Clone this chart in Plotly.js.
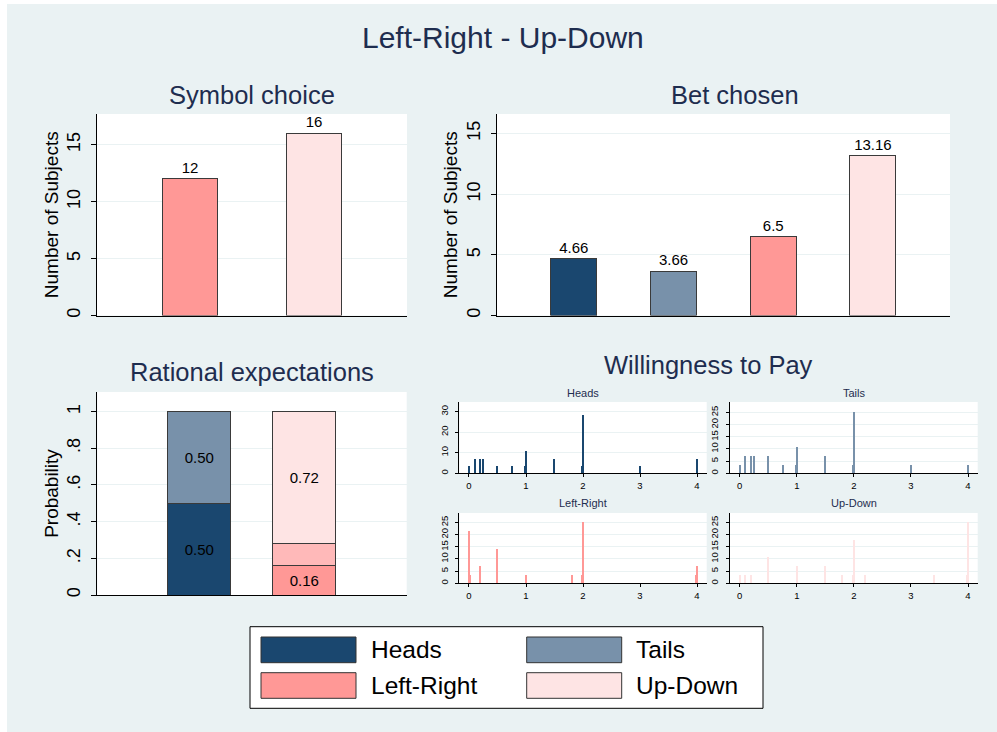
<!DOCTYPE html>
<html><head><meta charset="utf-8">
<script src="https://cdn.plot.ly/plotly-3.0.1.min.js"></script>
<style>html,body{margin:0;padding:0;background:#fff}#chart{width:997px;height:732px}</style>
</head><body><div id="chart"></div>
<script>
// ---------- data ----------
const seriesNames = ['Heads', 'Tails', 'Left-Right', 'Up-Down'];
const seriesColors = ['#1a476f', '#7891aa', '#ff9896', '#fee4e4'];
const middleColor = '#ffb9b9';

const symbolCats = ['Left-Right', 'Up-Down'];
const symbolCounts = [12, 16];
const symbolLabels = ['12', '16'];

const betCats = ['Heads', 'Tails', 'Left-Right', 'Up-Down'];
const betCounts = [4.66, 3.66, 6.5, 13.16];
const betLabels = ['4.66', '3.66', '6.5', '13.16'];

const ratCats = ['Heads / Tails', 'Left-Right / Up-Down'];
const ratBottom = [0.50, 0.16];
const ratBottomLabels = ['0.50', '0.16'];
const ratMiddleCats = ['Left-Right / Up-Down'];
const ratMiddle = [0.12];
const ratTop = [0.50, 0.72];
const ratTopLabels = ['0.50', '0.72'];
const probTickVals = [0, 0.2, 0.4, 0.6, 0.8, 1];
const probTickText = ['0', '.2', '.4', '.6', '.8', '1'];

const wtpHeadsX   = [0, 0.1, 0.2, 0.25, 0.5, 0.75, 0.98, 1, 1.5, 1.98, 2, 3, 4];
const wtpHeadsPct = [3.57, 7.14, 7.14, 7.14, 3.57, 3.57, 3.57, 10.71, 7.14, 3.57, 28.57, 3.57, 7.14];
const wtpTailsX   = [0, 0.1, 0.2, 0.25, 0.5, 0.75, 0.98, 1, 1.5, 1.98, 2, 3, 4];
const wtpTailsPct = [3.57, 7.14, 7.14, 7.14, 7.14, 3.57, 3.57, 10.71, 7.14, 3.57, 25, 3.57, 3.57];
const wtpLRX      = [0, 0.02, 0.2, 0.5, 1, 1.8, 1.98, 2, 3.98, 4];
const wtpLRPct    = [21.43, 3.57, 7.14, 14.29, 3.57, 3.57, 3.57, 25, 3.57, 7.14];
const wtpUDX      = [0, 0.1, 0.2, 0.5, 1, 1.5, 1.8, 1.98, 2, 2.2, 3.4, 3.98, 4];
const wtpUDPct    = [3.57, 3.57, 3.57, 10.71, 7.14, 7.14, 3.57, 3.57, 17.86, 3.57, 3.57, 3.57, 25];

// ---------- styling ----------
const FONT = '"Liberation Sans", Arial, Helvetica, sans-serif';
const TITLE_C = '#1e2d4f';
const BG = '#eaf2f3';
const W = 997, H = 732;
const fx = p => p / W;
const fy = p => 1 - p / H;
const outline = {color: '#3a3a3a', width: 1};

const traces = [];
// Panel 1: Symbol choice
traces.push({type: 'bar', x: symbolCats, y: symbolCounts, xaxis: 'x', yaxis: 'y',
  marker: {color: [seriesColors[2], seriesColors[3]], line: outline}, width: 0.45,
  text: symbolLabels, textposition: 'outside', cliponaxis: false,
  textfont: {size: 15, color: '#000'}, hoverinfo: 'skip'});
// Panel 2: Bet chosen
traces.push({type: 'bar', x: betCats, y: betCounts, xaxis: 'x2', yaxis: 'y2',
  marker: {color: seriesColors, line: outline}, width: 0.46,
  text: betLabels, textposition: 'outside', cliponaxis: false,
  textfont: {size: 15, color: '#000'}, hoverinfo: 'skip'});
// Panel 3: Rational expectations (stacked)
traces.push({type: 'bar', x: ratCats, y: ratBottom, xaxis: 'x3', yaxis: 'y3',
  marker: {color: [seriesColors[0], seriesColors[2]], line: outline}, width: 0.6,
  text: ratBottomLabels, textposition: 'inside', insidetextanchor: 'middle', constraintext: 'none',
  textangle: 0, textfont: {size: 15, color: '#000'}, hoverinfo: 'skip'});
traces.push({type: 'bar', x: ratMiddleCats, y: ratMiddle, xaxis: 'x3', yaxis: 'y3',
  marker: {color: middleColor, line: outline}, width: 0.6, hoverinfo: 'skip'});
traces.push({type: 'bar', x: ratCats, y: ratTop, xaxis: 'x3', yaxis: 'y3',
  marker: {color: [seriesColors[1], seriesColors[3]], line: outline}, width: 0.6,
  text: ratTopLabels, textposition: 'inside', insidetextanchor: 'middle', constraintext: 'none',
  textangle: 0, textfont: {size: 15, color: '#000'}, hoverinfo: 'skip'});
// Willingness to pay histograms
const wtp = [[wtpHeadsX, wtpHeadsPct], [wtpTailsX, wtpTailsPct], [wtpLRX, wtpLRPct], [wtpUDX, wtpUDPct]];
wtp.forEach((d, i) => {
  traces.push({type: 'bar', x: d[0], y: d[1], xaxis: 'x' + (i + 4), yaxis: 'y' + (i + 4),
    marker: {color: seriesColors[i], line: {width: 0}}, width: 0.035, hoverinfo: 'skip'});
});

function bigY(domain, range, title, extra) {
  return Object.assign({domain, range, tick0: 0, showline: true, linecolor: '#000', linewidth: 1,
    ticks: 'outside', ticklen: 5, tickcolor: '#000', tickangle: -90, ticklabelstandoff: 4,
    tickfont: {size: 18, color: '#000'}, showgrid: true, gridcolor: BG, gridwidth: 1,
    zeroline: false, fixedrange: true,
    title: {text: title, font: {size: 19, color: '#000'}, standoff: 0}}, extra || {});
}
function bigX(domain, range) {
  return {domain, range, type: 'category', showline: true, linecolor: '#000', linewidth: 1,
    ticks: '', showticklabels: false, showgrid: false, zeroline: false, fixedrange: true};
}
function smallX(domain, anchor) {
  return {domain, anchor, range: [-0.17, 4.17], tick0: 0, dtick: 1, showline: true, linecolor: '#000',
    linewidth: 1, ticks: 'outside', ticklen: 3, tickcolor: '#000', tickfont: {size: 9.5, color: '#000'},
    showgrid: false, zeroline: false, fixedrange: true, ticklabelstandoff: 0};
}
function smallY(domain, anchor, range, dtick) {
  return {domain, anchor, range, tick0: 0, dtick, showline: true, linecolor: '#000', linewidth: 1,
    ticks: 'outside', ticklen: 3, tickcolor: '#000', tickangle: -90, tickfont: {size: 9.5, color: '#000'},
    showgrid: true, gridcolor: BG, gridwidth: 1, zeroline: false, fixedrange: true, ticklabelstandoff: 4};
}

const dTopRow = [fy(315.5), fy(114)];
const dP3 = [fy(595), fy(392)];
const dHTop = [fy(473.3), fy(402)];
const dHBot = [fy(583.3), fy(513)];
const dHL = [fx(459.3), fx(706.7)];
const dHR = [fx(730), fx(977.7)];

const layout = {
  width: W, height: H, margin: {l: 0, r: 0, t: 0, b: 0},
  paper_bgcolor: BG, plot_bgcolor: '#ffffff', showlegend: false, barmode: 'stack',
  font: {family: FONT, color: '#000'},
  xaxis: Object.assign(bigX([fx(97), fx(407)], [-0.75, 1.75]), {anchor: 'y'}),
  yaxis: bigY(dTopRow, [0, 17.7], 'Number of Subjects', {dtick: 5, anchor: 'x'}),
  xaxis2: Object.assign(bigX([fx(496.7), fx(950)], [-0.773, 3.773]), {anchor: 'y2'}),
  yaxis2: bigY(dTopRow, [0, 16.6], 'Number of Subjects', {dtick: 5, anchor: 'x2'}),
  xaxis3: Object.assign(bigX([fx(97.3), fx(406.7)], [-0.973, 1.977]), {anchor: 'y3'}),
  yaxis3: bigY(dP3, [0, 1.107], 'Probability', {tickmode: 'array', tickvals: probTickVals, ticktext: probTickText, anchor: 'x3'}),
  xaxis4: smallX(dHL, 'y4'), yaxis4: smallY(dHTop, 'x4', [0, 34.7], 10),
  xaxis5: smallX(dHR, 'y5'), yaxis5: smallY(dHTop, 'x5', [0, 29.3], 5),
  xaxis6: smallX(dHL, 'y6'), yaxis6: smallY(dHBot, 'x6', [0, 28.9], 5),
  xaxis7: smallX(dHR, 'y7'), yaxis7: smallY(dHBot, 'x7', [0, 28.9], 5),
  annotations: [], shapes: []
};

function ann(text, xp, yp, size, color, xanchor) {
  layout.annotations.push({text, x: fx(xp), y: fy(yp), xref: 'paper', yref: 'paper',
    xanchor: xanchor || 'center', yanchor: 'middle', showarrow: false,
    font: {family: FONT, size, color: color || TITLE_C}});
}
ann('Left-Right - Up-Down', 503, 37.5, 30);
ann('Symbol choice', 252, 95, 25.5);
ann('Bet chosen', 735, 95, 25.5);
ann('Rational expectations', 252, 372, 25.5);
ann('Willingness to Pay', 708, 365, 25.5);
ann(seriesNames[0], 583, 393, 11);
ann(seriesNames[1], 854, 393, 11);
ann(seriesNames[2], 583, 503.3, 11);
ann(seriesNames[3], 854, 503.3, 11);

// white frame strips
layout.shapes.push({type: 'rect', xref: 'paper', yref: 'paper', x0: 0, x1: fx(7), y0: 0, y1: 1,
  fillcolor: '#fff', line: {width: 0}, layer: 'below'});
layout.shapes.push({type: 'rect', xref: 'paper', yref: 'paper', x0: 0, x1: 1, y0: fy(4), y1: 1,
  fillcolor: '#fff', line: {width: 0}, layer: 'below'});
// legend
layout.shapes.push({type: 'rect', xref: 'paper', yref: 'paper', x0: fx(250), x1: fx(763),
  y0: fy(708.3), y1: fy(626.7), fillcolor: '#fff', line: {color: '#000', width: 1}});
const legCols = [[261, 356, 368.5], [526.7, 621.7, 633.5]];
const legRows = [[637, 662.7], [672.7, 698.3]];
seriesNames.forEach((name, i) => {
  const c = legCols[i % 2], r = legRows[Math.floor(i / 2)];
  layout.shapes.push({type: 'rect', xref: 'paper', yref: 'paper', x0: fx(c[0]), x1: fx(c[1]),
    y0: fy(r[1]), y1: fy(r[0]), fillcolor: seriesColors[i], line: {color: '#333', width: 1}});
  ann(name, c[2], (r[0] + r[1]) / 2, 24.5, '#000', 'left');
});

Plotly.newPlot('chart', traces, layout, {staticPlot: true, displayModeBar: false});
</script>
</body></html>
